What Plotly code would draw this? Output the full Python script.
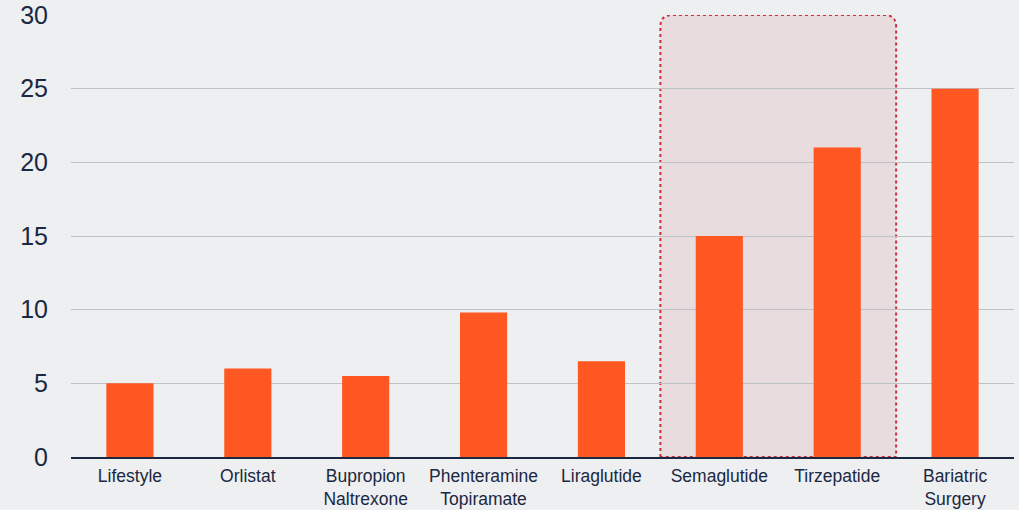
import plotly.graph_objects as go

# Mean weight loss (%) by intervention
treatments = ["Lifestyle", "Orlistat", "Bupropion<br>Naltrexone", "Phenteramine<br>Topiramate",
              "Liraglutide", "Semaglutide", "Tirzepatide", "Bariatric<br>Surgery"]
weight_loss = [5, 6, 5.5, 9.8, 6.5, 15, 21, 25]
y_ticks = [0, 5, 10, 15, 20, 25, 30]
highlight = ["Semaglutide", "Tirzepatide"]

BG = "#EEEFF1"
BAR = "#FF5722"
INK = "#1A2842"

positions = list(range(len(treatments)))

fig = go.Figure(go.Bar(
    x=positions, y=weight_loss,
    marker=dict(color=BAR, line=dict(width=0)),
    width=0.4,
    hoverinfo="skip",
))

# Rounded, dotted highlight around the GLP-1 class
i0 = treatments.index(highlight[0]) - 0.5
i1 = treatments.index(highlight[-1]) + 0.5
top = y_ticks[-1]
rx, ry = 0.1, 0.8
path = (f"M {i0},0 L {i0},{top - ry} Q {i0},{top} {i0 + rx},{top} "
        f"L {i1 - rx},{top} Q {i1},{top} {i1},{top - ry} L {i1},0 Z")
fig.add_shape(type="path", path=path, xref="x", yref="y", layer="below",
              fillcolor="#E8DCDF", line=dict(color="#C9303A", width=2, dash="dot"))

fig.update_layout(
    width=1019, height=510,
    margin=dict(l=71, r=5, t=15, b=53),
    paper_bgcolor=BG, plot_bgcolor=BG,
    font=dict(family="Liberation Sans, Arial, sans-serif", color=INK),
    showlegend=False,
    xaxis=dict(
        tickmode="array", tickvals=positions, ticktext=treatments,
        range=[-0.5, len(treatments) - 0.5],
        showgrid=False, zeroline=False,
        showline=True, linecolor=INK, linewidth=2,
        tickfont=dict(size=17.5, color=INK),
        ticks="",
        ticklabelstandoff=2,
        automargin=False,
    ),
    yaxis=dict(
        range=[0, 30], tickmode="array", tickvals=y_ticks,
        showgrid=True, gridcolor="#BFC1C7", gridwidth=1,
        zeroline=False, showline=False,
        tickfont=dict(size=25, color=INK),
        ticklabelstandoff=22,
        automargin=False,
    ),
)

fig.write_html("out.html")
